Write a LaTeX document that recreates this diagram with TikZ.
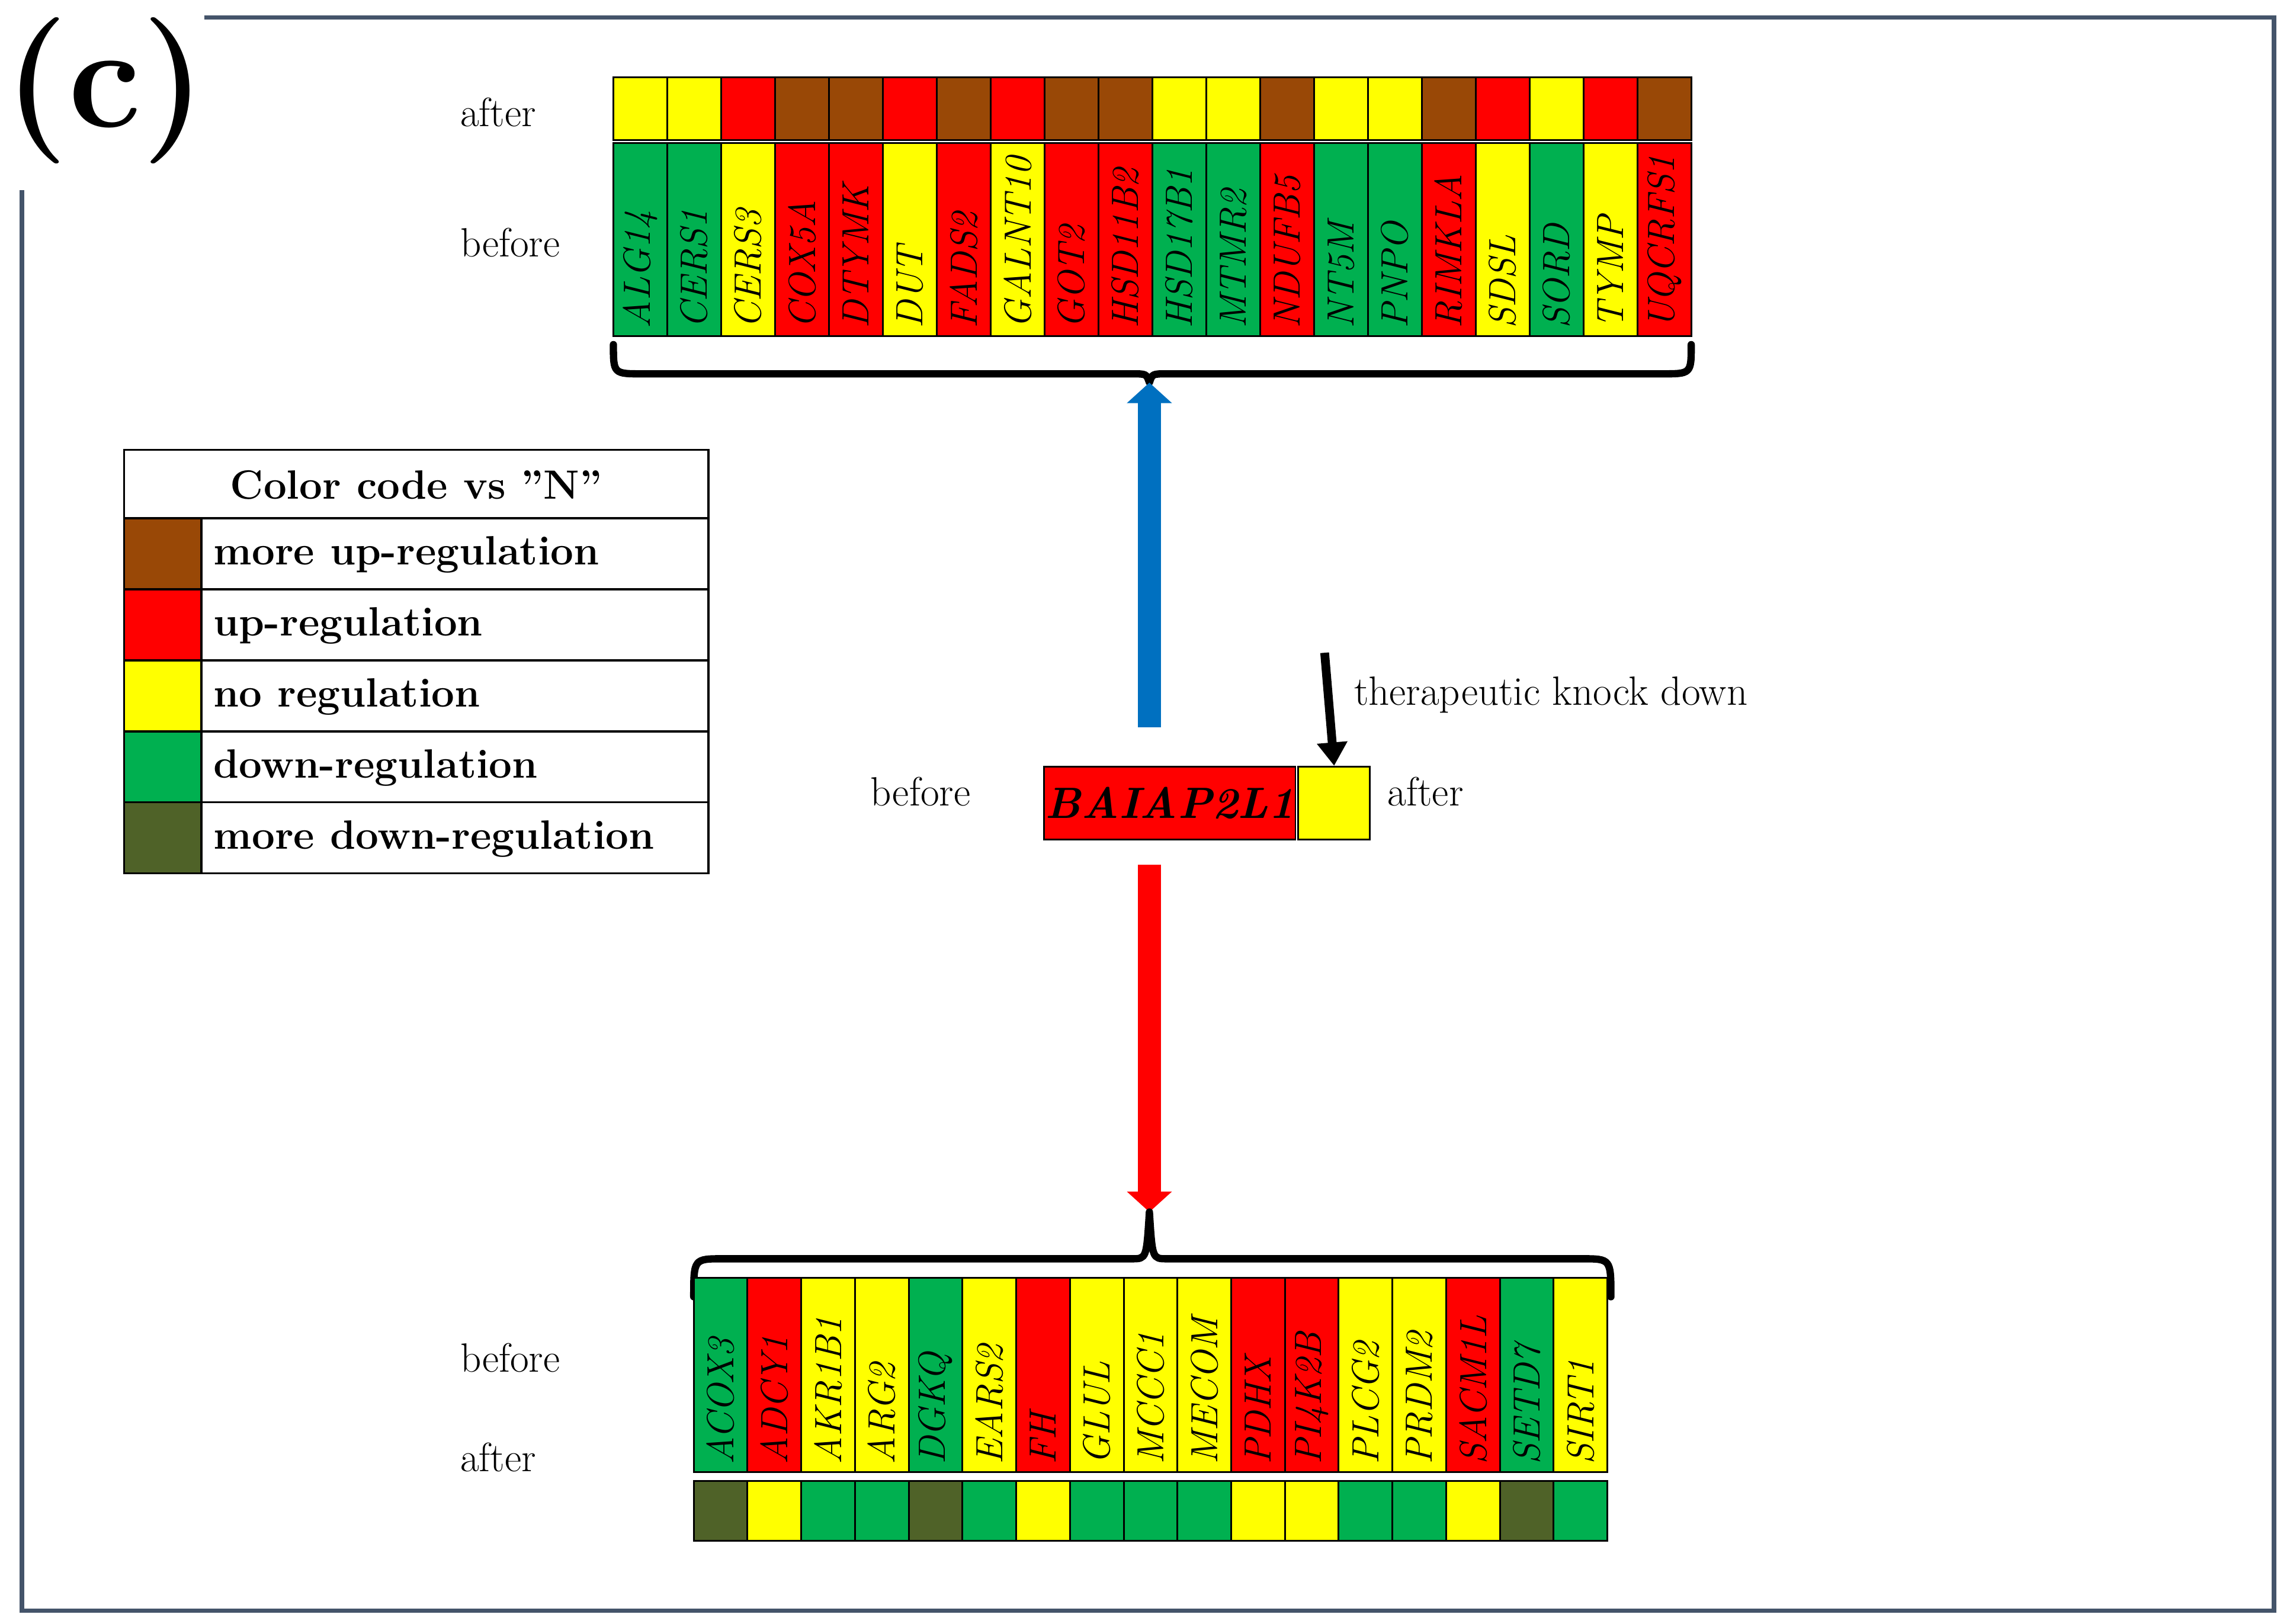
\documentclass[tikz,border=0pt]{standalone}
\usetikzlibrary{arrows.meta}
\definecolor{cG}{RGB}{0,176,80}
\definecolor{cR}{RGB}{255,0,0}
\definecolor{cY}{RGB}{255,255,0}
\definecolor{cB}{RGB}{153,72,6}
\definecolor{cO}{RGB}{79,98,40}
\definecolor{frame}{RGB}{68,84,106}
\definecolor{arrblue}{RGB}{0,112,192}
\begin{document}
\begin{tikzpicture}[x=1pt,y=-1pt,
  cell/.style={draw=black,line width=1.2pt},
  gene/.style={rotate=90,anchor=west,inner sep=0pt,font=\fontsize{26}{28}\selectfont\itshape},
  lab/.style={font=\fontsize{28}{30}\selectfont,anchor=west,inner sep=0pt},
  leg/.style={font=\fontsize{28}{30}\selectfont\bfseries,anchor=west,inner sep=0pt},
  brace/.style={line width=5pt,line cap=round,line join=round}]
\useasboundingbox (0,0) rectangle (1568,1112);
% frame
\draw[frame,line width=3pt] (140,12) -- (1557,12) -- (1557,1103) -- (15,1103) -- (15,130);
\node[anchor=west,inner sep=0pt,font=\fontsize{100}{100}\selectfont\bfseries] (lc) at (3,62) {(c)};
% top strip
\foreach \c [count=\i from 0] in {Y,Y,R,B,B,R,B,R,B,B,Y,Y,B,Y,Y,B,R,Y,R,B}
  \draw[cell,fill=c\c] (420+\i*36.9,53) rectangle ++(36.9,43);
\foreach \g/\c [count=\i from 0] in {ALG14/G,CERS1/G,CERS3/Y,COX5A/R,DTYMK/R,DUT/Y,FADS2/R,GALNT10/Y,GOT2/R,HSD11B2/R,HSD17B1/G,MTMR2/G,NDUFB5/R,NT5M/G,PNPO/G,RIMKLA/R,SDSL/Y,SORD/G,TYMP/Y,UQCRFS1/R}{
  \draw[cell,fill=c\c] (420+\i*36.9,98) rectangle ++(36.9,132);
  \node[gene] (t\i) at (420+\i*36.9+18.45,225) {\g};}
\node[lab] (ta) at (315,77) {after};
\node[lab] (tb) at (315,166) {before};
% top brace
\coordinate (tbr) at (787,262);
\draw[brace] (420,236) .. controls (420,256) .. (440,256) -- (775,256) .. controls (785,256) .. (tbr) .. controls (789,256) .. (799,256) -- (1138,256) .. controls (1158,256) .. (1158,236);
% center gene
\node[draw=black,line width=1.2pt,fill=cR,minimum width=172pt,minimum height=50pt,inner sep=0pt,font=\fontsize{30}{32}\selectfont\itshape\bfseries] (bai) at (801,550) {BAIAP2L1};
\node[draw=black,line width=1.2pt,fill=cY,minimum width=49pt,minimum height=50pt,inner sep=0pt] (aft) at (913.5,550) {};
\node[lab] (cb) at (596,542) {before};
\node[lab] (ca) at (950,542) {after};
\coordinate (kd) at (907,447);
\draw[line width=6pt,-{Triangle[length=16pt,width=20pt]}] (kd) -- (aft.north);
\node[lab] (kt) at (927,476) {therapeutic knock down};
% arrows
\coordinate (ub) at (787,498);
\draw[arrblue,line width=16pt,-{Triangle[length=14pt,width=30pt]}] (ub) -- (tbr);
\coordinate (rs) at (787,592);
\coordinate (bbr) at (787,830);
\draw[cR,line width=16pt,-{Triangle[length=14pt,width=30pt]}] (rs) -- (bbr);
% bottom brace
\draw[brace] (475,888) .. controls (475,862) .. (495,862) -- (775,862) .. controls (785,862) .. (bbr) .. controls (789,862) .. (799,862) -- (1083,862) .. controls (1103,862) .. (1103,888);
% bottom strip
\foreach \g/\c [count=\i from 0] in {ACOX3/G,ADCY1/R,AKR1B1/Y,ARG2/Y,DGKQ/G,EARS2/Y,FH/R,GLUL/Y,MCCC1/Y,MECOM/Y,PDHX/R,PI4K2B/R,PLCG2/Y,PRDM2/Y,SACM1L/R,SETD7/G,SIRT1/Y}{
  \draw[cell,fill=c\c] (475+\i*36.8,875) rectangle ++(36.8,133);
  \node[gene] (b\i) at (475+\i*36.8+18.4,1003) {\g};}
\foreach \c [count=\i from 0] in {O,Y,G,G,O,G,Y,G,G,G,Y,Y,G,G,Y,O,G}
  \draw[cell,fill=c\c] (475+\i*36.8,1014) rectangle ++(36.8,41);
\node[lab] (bb) at (315,930) {before};
\node[lab] (ba) at (315,998) {after};
% legend
\draw[line width=1.5pt] (85,308) rectangle (485,598);
\node[font=\fontsize{28}{30}\selectfont\bfseries,inner sep=0pt] (lh) at (285,332) {Color code vs "N"};
\foreach \c/\t [count=\i from 0] in {B/more up-regulation,R/up-regulation,Y/no regulation,G/down-regulation,O/more down-regulation}{
  \draw[line width=1.5pt,fill=c\c] (85,355+\i*48.6) rectangle (138,355+\i*48.6+48.6);
  \draw[line width=1.5pt] (138,355+\i*48.6) rectangle (485,355+\i*48.6+48.6);
  \node[leg] (l\i) at (146,380+\i*48.6) {\t};}
\end{tikzpicture}
\end{document}
